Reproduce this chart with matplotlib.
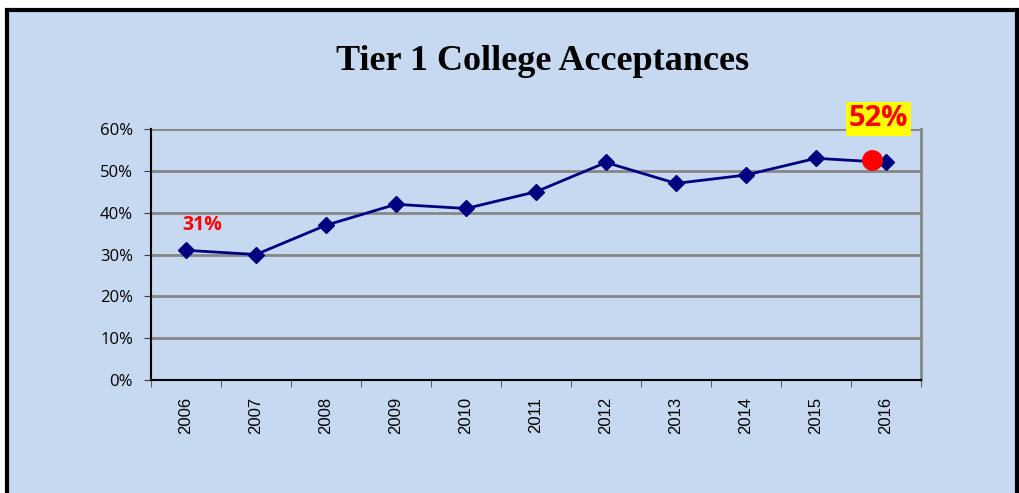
import matplotlib.pyplot as plt
from matplotlib.patches import Rectangle

years = ['2006', '2007', '2008', '2009', '2010', '2011', '2012', '2013', '2014', '2015', '2016']
rates = [0.31, 0.30, 0.37, 0.42, 0.41, 0.45, 0.52, 0.47, 0.49, 0.53, 0.52]

# highlighted point near the last value
dot_x = 9.8
dot_y = 0.527

bg = '#C6D9F1'
navy = '#000080'
grid_gray = '#868686'

fig = plt.figure(figsize=(10.2, 4.93), dpi=100)
fig.patch.set_facecolor('white')
fig.patches.append(Rectangle((7 / 1020, -0.1), 1010 / 1020, 1.1 - 10 / 493,
                             transform=fig.transFigure, facecolor=bg,
                             edgecolor='black', linewidth=3, zorder=-10))

ax = fig.add_axes([151 / 1020, 1 - 380 / 493, 770 / 1020, 251 / 493])
ax.set_facecolor(bg)

x = list(range(len(years)))
ax.plot(x, rates, color=navy, linewidth=2, marker='D', markersize=8,
        markerfacecolor=navy, markeredgecolor=navy, zorder=3)
ax.plot([dot_x], [dot_y], 'o', color='red', markersize=14, zorder=4)

ax.set_xlim(-0.5, len(years) - 0.5)
ax.set_ylim(0, 0.6)
ax.set_yticks([0, 0.1, 0.2, 0.3, 0.4, 0.5, 0.6])
ax.set_yticklabels(['0%', '10%', '20%', '30%', '40%', '50%', '60%'],
                   fontsize=12, family='Open Sans')
ax.set_xticks(x)
ax.set_xticklabels(years, rotation=90, fontsize=12, family='Liberation Sans')
ax.set_xticks([i - 0.5 for i in range(len(years) + 1)], minor=True)
ax.tick_params(axis='x', which='major', length=0, pad=12)
ax.tick_params(axis='x', which='minor', length=5, color='#404040')
ax.tick_params(axis='y', length=5, color='#404040', pad=8)

ax.grid(axis='y', color=grid_gray, linewidth=2)
ax.set_axisbelow(True)
for s in ['left', 'bottom']:
    ax.spines[s].set_color('black')
    ax.spines[s].set_linewidth(1.5)
ax.spines['right'].set_color(grid_gray)
ax.spines['right'].set_linewidth(2)
ax.spines['top'].set_visible(False)

ax.text(0.23, 0.37, '31%', color='red', fontsize=14, fontweight='bold',
        family='Open Sans', ha='center', va='center')
ax.text(9.89, 0.624, '52%', color='red', fontsize=21, fontweight='bold',
        family='Open Sans', ha='center', va='center', clip_on=False,
        bbox=dict(facecolor='yellow', edgecolor='none', pad=2))

fig.text(543 / 1020, 1 - 61 / 493, 'Tier 1 College Acceptances', ha='center',
         va='center', fontsize=26, fontweight='bold', family='Liberation Serif')

fig.savefig('out.png', dpi=100, facecolor=fig.get_facecolor())
